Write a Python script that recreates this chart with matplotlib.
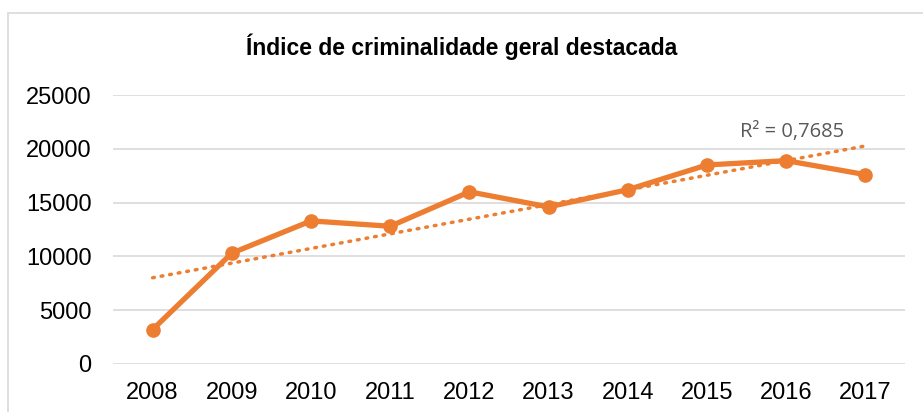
import numpy as np
import matplotlib.pyplot as plt
from matplotlib.patches import Rectangle

# dados
anos = ['2008', '2009', '2010', '2011', '2012', '2013', '2014', '2015', '2016', '2017']
indice = [3200, 10300, 13300, 12800, 16000, 14600, 16200, 18500, 18900, 17600]
y_ticks = [0, 5000, 10000, 15000, 20000, 25000]
r2_label = 'R² = 0,7685'

cor = '#ED7D31'

fig = plt.figure(figsize=(9.23, 4.12), dpi=100)
ax = fig.add_axes([113 / 923, 1 - 364 / 412, (905 - 113) / 923, (364 - 95) / 412])

x = np.arange(len(anos))
ax.plot(x, indice, color=cor, linewidth=3.8, marker='o', markersize=9.5, zorder=3)

# linha de tendencia linear
coef = np.polyfit(x, indice, 1)
xt = np.array([x[0], x[-1]])
ax.plot(xt, np.polyval(coef, xt), color=cor, linewidth=2.5, linestyle=(0, (0.5, 2.0)),
        dash_capstyle='round', zorder=2)
ax.text(8.07, 21600, r2_label, color='#595959',
        fontsize=14.5, family='Open Sans', ha='center', va='center')

ax.set_xlim(-0.5, len(anos) - 0.5)
ax.set_ylim(0, 25000)
ax.set_xticks(x)
ax.set_xticklabels(anos)
ax.set_yticks(y_ticks)
ax.tick_params(length=0, labelsize=17)
ax.tick_params(axis='y', pad=15.5)
ax.tick_params(axis='x', pad=13)
for lab in ax.get_xticklabels() + ax.get_yticklabels():
    lab.set_family('Liberation Sans')
ax.grid(axis='y', color='#D9D9D9', linewidth=1.2)
ax.set_axisbelow(True)
for s in ax.spines.values():
    s.set_visible(False)

fig.text(0.5, 1 - 47 / 412, 'Índice de criminalidade geral destacada', ha='center', va='center',
         fontsize=16.5, fontweight='bold', family='Liberation Sans')

# moldura do grafico
fig.patches.append(Rectangle((8 / 923, -0.1), 1.0, 1 - 13 / 412 + 0.1, transform=fig.transFigure,
                             fill=False, edgecolor='#D9D9D9', linewidth=1.2))

fig.savefig('out.png', dpi=100)
